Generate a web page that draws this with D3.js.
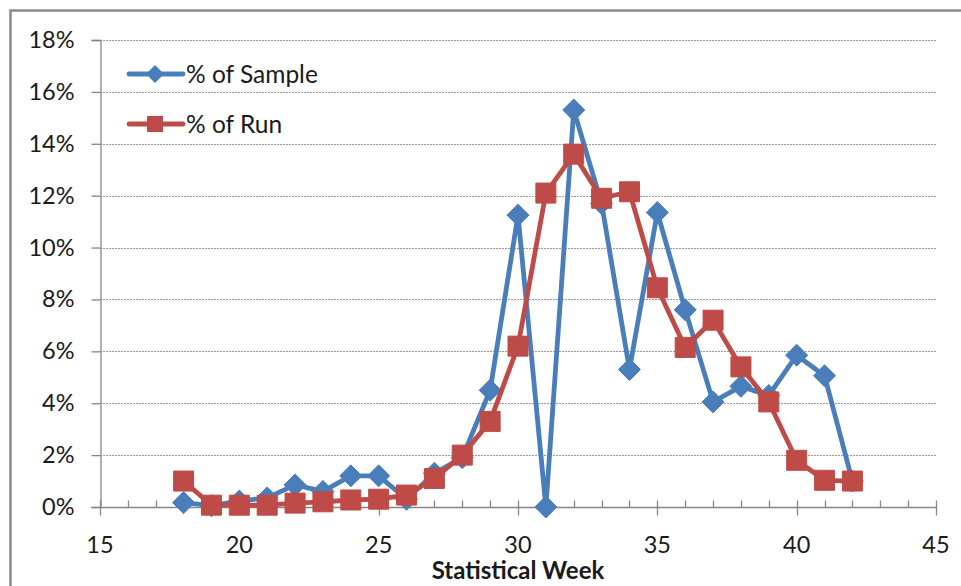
<!DOCTYPE html>
<html>
<head>
<meta charset="utf-8">
<script src="https://cdn.jsdelivr.net/npm/d3@7"></script>
<style>
  html, body { margin: 0; padding: 0; background: #fff; }
  svg { display: block; }
  text { font-family: Lato, "Open Sans", sans-serif; fill: #1a1a1a; }
</style>
</head>
<body>
<svg id="chart" width="961" height="586"></svg>
<script>
// Statistical weeks and the share (in %) of sample and of run for each week
const weeks = [18, 19, 20, 21, 22, 23, 24, 25, 26, 27, 28, 29, 30, 31, 32, 33, 34, 35, 36, 37, 38, 39, 40, 41, 42];
const pctSample = [0.17, 0.05, 0.23, 0.35, 0.85, 0.6, 1.2, 1.2, 0.3, 1.3, 1.9, 4.5, 11.25, 0, 15.3, 11.7, 5.3, 11.35, 7.6, 4.05, 4.65, 4.3, 5.85, 5.06, 1.0];
const pctRun = [1.0, 0.07, 0.07, 0.07, 0.15, 0.2, 0.27, 0.3, 0.46, 1.1, 2.0, 3.3, 6.2, 12.1, 13.6, 11.9, 12.15, 8.45, 6.15, 7.2, 5.4, 4.05, 1.8, 1.03, 1.0];

const seriesNames = ["% of Sample", "% of Run"];
const xTickValues = [15, 20, 25, 30, 35, 40, 45];
const xMinorTicks = d3.range(15, 46, 1);
const yTickValues = [0, 2, 4, 6, 8, 10, 12, 14, 16, 18];
const xTitle = "Statistical Week";

const svg = d3.select("#chart");

// Frame around the chart area
svg.append("rect")
  .attr("x", 10.5).attr("y", 10.5)
  .attr("width", 1000).attr("height", 1000)
  .attr("fill", "none").attr("stroke", "#8a8a8a").attr("stroke-width", 2.5);

const x = d3.scaleLinear().domain([15, 45]).range([100, 936]);
const y = d3.scaleLinear().domain([0, 18]).range([507, 40]);

// Horizontal dotted gridlines
svg.append("g")
  .selectAll("line")
  .data(yTickValues.filter(v => v > 0))
  .join("line")
  .attr("x1", x(15)).attr("x2", x(45))
  .attr("y1", d => Math.round(y(d)) + 0.5).attr("y2", d => Math.round(y(d)) + 0.5)
  .attr("stroke", "#9a9a9a").attr("stroke-width", 1)
  .attr("stroke-dasharray", "2,1");

// Y axis
const yAxis = d3.axisLeft(y)
  .tickValues(yTickValues)
  .tickSize(9)
  .tickPadding(17)
  .tickFormat(d => d + "%");
const gy = svg.append("g").attr("transform", "translate(100.5,0)").call(yAxis);
gy.select(".domain").attr("stroke", "#868686").attr("stroke-width", 1.3);
gy.selectAll(".tick line").attr("stroke", "#868686").attr("stroke-width", 1.3);
gy.selectAll(".tick text").attr("font-size", 23.5).attr("fill", "#1a1a1a")
  .style("font-family", "Lato, sans-serif");

// X axis: minor ticks inside, major ticks crossing the axis line
const gx = svg.append("g").attr("transform", "translate(0,507.5)");
gx.append("line")
  .attr("x1", x(15)).attr("x2", x(45))
  .attr("stroke", "#868686").attr("stroke-width", 1.3);
gx.selectAll("line.minor")
  .data(xMinorTicks)
  .join("line").attr("class", "minor")
  .attr("x1", d => Math.round(x(d)) + 0.5).attr("x2", d => Math.round(x(d)) + 0.5)
  .attr("y1", -7).attr("y2", d => xTickValues.includes(d) ? 8 : 0)
  .attr("stroke", "#868686").attr("stroke-width", 1.3);
gx.selectAll("text")
  .data(xTickValues)
  .join("text")
  .attr("x", d => x(d)).attr("y", 45)
  .attr("text-anchor", "middle")
  .attr("font-size", 23.5)
  .text(d => d);

// Axis title
svg.append("text")
  .attr("x", 518).attr("y", 579)
  .attr("text-anchor", "middle")
  .attr("font-size", 24).attr("font-weight", "bold")
  .text(xTitle);

const colors = ["#4a7ebb", "#be4b48"];
const series = [pctSample, pctRun];

const line = d3.line()
  .x((d, i) => x(weeks[i]))
  .y(d => y(d));

const diamond = s => `M0,${-s}L${s},0L0,${s}L${-s},0Z`;
const square = s => `M${-s},${-s}H${s}V${s}H${-s}Z`;
const shapes = [diamond, square];
const markerSize = [11, 10];

series.forEach((vals, k) => {
  const g = svg.append("g");
  g.append("path")
    .datum(vals)
    .attr("d", line)
    .attr("fill", "none")
    .attr("stroke", colors[k])
    .attr("stroke-width", 4.8)
    .attr("stroke-linejoin", "round");
  g.selectAll("path.marker")
    .data(vals)
    .join("path").attr("class", "marker")
    .attr("transform", (d, i) => `translate(${x(weeks[i])},${y(d)})`)
    .attr("d", shapes[k](markerSize[k]))
    .attr("fill", colors[k])
    .attr("stroke", colors[k]).attr("stroke-width", 1);
});

// Legend
const legend = svg.append("g");
seriesNames.forEach((name, k) => {
  const ly = 74 + k * 50;
  legend.append("line")
    .attr("x1", 129).attr("x2", 183)
    .attr("y1", ly).attr("y2", ly)
    .attr("stroke", colors[k]).attr("stroke-width", 4.8)
    .attr("stroke-linecap", "round");
  legend.append("path")
    .attr("transform", `translate(155,${ly})`)
    .attr("d", shapes[k](k === 0 ? 9 : 8))
    .attr("fill", colors[k]);
  legend.append("text")
    .attr("x", 186).attr("y", ly)
    .attr("dy", "0.35em")
    .attr("font-size", 24.5)
    .text(name);
});
</script>
</body>
</html>
